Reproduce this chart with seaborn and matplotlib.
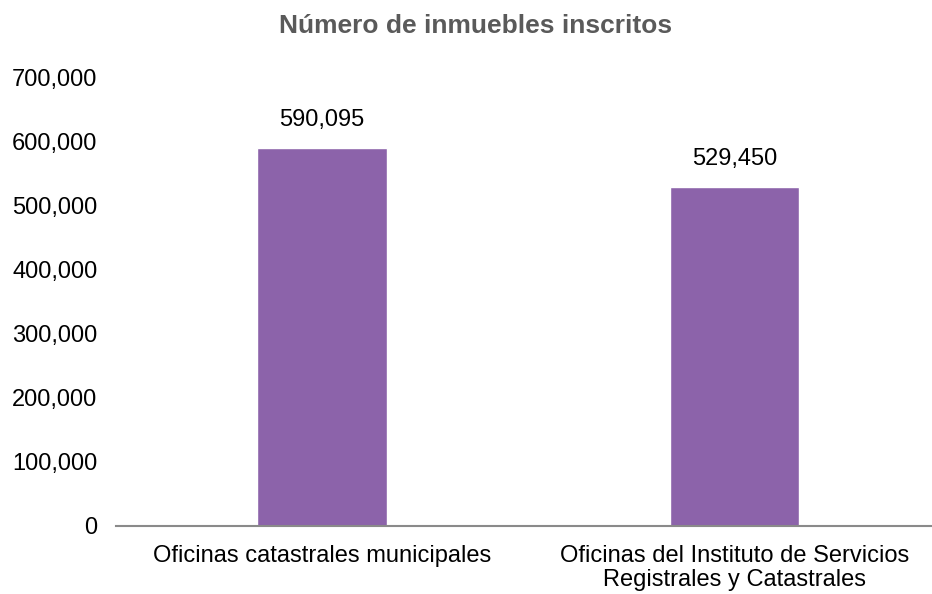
import matplotlib
matplotlib.use("Agg")
import matplotlib.pyplot as plt
import seaborn as sns
import pandas as pd

categories = [
    "Oficinas catastrales municipales",
    "Oficinas del Instituto de Servicios\nRegistrales y Catastrales",
]
values = [590095, 529450]
title = "Número de inmuebles inscritos"
bar_color = "#8C63AA"

df = pd.DataFrame({"oficina": categories, "inmuebles": values})

sns.set_theme(style="white")
plt.rcParams["font.family"] = ["Liberation Sans", "DejaVu Sans"]

fig = plt.figure(figsize=(9.32, 5.94), dpi=100)
ax = fig.add_axes([0.1245, 0.1145, 0.8755, 0.7555])

sns.barplot(data=df, x="oficina", y="inmuebles", color=bar_color,
            width=0.315, saturation=1, ax=ax)

ax.set_ylim(0, 700000)
ax.set_xlim(-0.5, 1.479)
ax.set_yticks(range(0, 700001, 100000))
ax.yaxis.set_major_formatter(matplotlib.ticker.FuncFormatter(lambda v, p: f"{int(v):,}"))
ax.tick_params(axis="y", length=0, pad=13.5, labelsize=17, labelcolor="#000000")
ax.tick_params(axis="x", length=0, pad=14, labelsize=17, labelcolor="#000000")
for lbl in ax.get_xticklabels():
    lbl.set_linespacing(1.1)
ax.set_xlabel("")
ax.set_ylabel("")

for s in ["top", "right", "left"]:
    ax.spines[s].set_visible(False)
ax.spines["bottom"].set_color("#8a8a8a")
ax.spines["bottom"].set_linewidth(1.5)

for i, v in enumerate(values):
    ax.annotate(f"{v:,}", (i, v), xytext=(0, 12), textcoords="offset points",
                ha="center", va="bottom", fontsize=17, color="#000000")

fig.text(0.510, 0.956, title, ha="center", va="center", fontsize=19,
         fontweight="bold", color="#5a5a5a")

fig.savefig("out.png", dpi=100)
